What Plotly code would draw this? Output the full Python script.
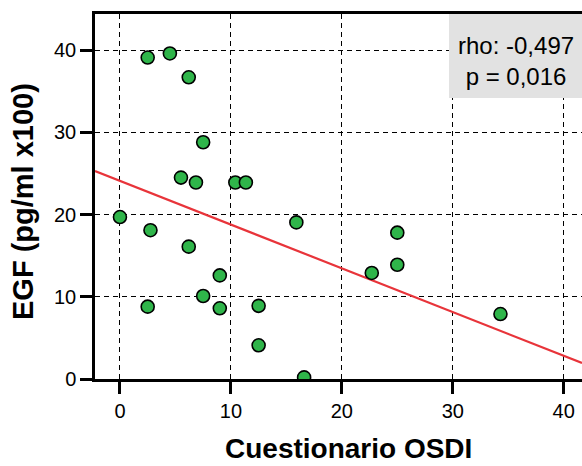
import plotly.graph_objects as go

# OSDI questionnaire score vs. EGF concentration
osdi = [2.5, 4.5, 6.2, 7.5, 5.5, 6.85, 10.4, 11.35, 0.0, 2.75, 15.9, 25.0,
        6.2, 9.0, 7.5, 2.5, 9.0, 12.5, 12.5, 22.7, 25.0, 34.3, 16.6]
egf = [39.1, 39.6, 36.7, 28.8, 24.5, 23.9, 23.9, 23.9, 19.7, 18.1, 19.05, 17.8,
       16.1, 12.6, 10.1, 8.8, 8.6, 8.9, 4.1, 12.9, 13.9, 7.9, 0.2]

# Linear fit line (intercept, slope)
fit_intercept = 24.1
fit_slope = -0.532

x_range = [-2.25, 41.65]
y_range = [0, 44.4]
x_ticks = [0, 10, 20, 30, 40]
y_ticks = [0, 10, 20, 30, 40]

rho_text = "rho: -0,497<br>p = 0,016"
x_title = "Cuestionario OSDI"
y_title = "EGF (pg/ml x100)"

FONT = "Liberation Sans, Arial, sans-serif"

fig = go.Figure()

fit_x = list(x_range)
fit_y = [fit_intercept + fit_slope * v for v in fit_x]
fig.add_trace(go.Scatter(
    x=fit_x, y=fit_y, mode="lines",
    line=dict(color="#e8343a", width=2.2),
    hoverinfo="skip", showlegend=False,
))

fig.add_trace(go.Scatter(
    x=osdi, y=egf, mode="markers",
    marker=dict(size=13, color="#2fb54a", line=dict(color="black", width=1.6)),
    showlegend=False,
))

axis_common = dict(
    showline=True, linecolor="black", linewidth=2.5,
    ticks="outside", ticklen=12, tickwidth=2.8, tickcolor="black",
    showgrid=True, gridcolor="black", gridwidth=1, griddash="5px,4px",
    zeroline=False,
    tickfont=dict(family=FONT, size=20, color="black"),
)

fig.update_xaxes(range=x_range, tickvals=x_ticks, mirror=True, **axis_common)
fig.update_yaxes(range=y_range, tickvals=y_ticks, **axis_common)

W, H = 582, 466
L, R, T, B = 95, 0, 14, 87
pw = W - L - R
ph = H - T - B


def px_to_paper_x(px):
    return (px - L) / pw


def px_to_paper_y(py):
    return (H - B - py) / ph


# Statistics box
fig.add_shape(
    type="rect", xref="paper", yref="paper",
    x0=px_to_paper_x(449), x1=1.0, y0=px_to_paper_y(98), y1=1.0,
    fillcolor="#e2e2e2", line=dict(width=0), layer="above",
)
fig.add_annotation(
    xref="paper", yref="paper",
    x=px_to_paper_x(516), y=px_to_paper_y(61),
    text=rho_text, showarrow=False, align="center",
    xanchor="center", yanchor="middle",
    font=dict(family=FONT, size=24, color="black"),
)

# Axis titles
fig.add_annotation(
    xref="paper", yref="paper",
    x=px_to_paper_x(348), y=px_to_paper_y(449),
    text=x_title, showarrow=False, xanchor="center", yanchor="middle",
    font=dict(family=FONT, size=28, color="black", weight="bold"),
)
fig.add_annotation(
    xref="paper", yref="paper",
    x=px_to_paper_x(23), y=px_to_paper_y(202),
    text=y_title, showarrow=False, textangle=-90,
    xanchor="center", yanchor="middle",
    font=dict(family=FONT, size=29, color="black", weight="bold"),
)

fig.update_layout(
    width=W, height=H,
    margin=dict(l=L, r=R, t=T, b=B, pad=0),
    paper_bgcolor="white", plot_bgcolor="white",
)

fig.write_html("out.html")
